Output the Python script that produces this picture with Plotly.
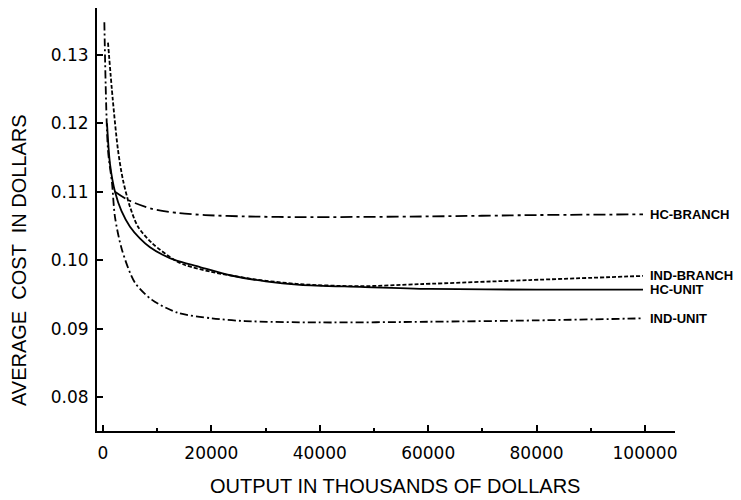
import plotly.graph_objects as go

# ---- data ----
hc_unit_x = [740, 1300, 2214, 3400, 4982, 6800, 8672, 11000, 13284, 17897, 23432, 30000, 36347, 47417, 60332, 80000, 99630]
hc_unit_y = [0.1200, 0.1140, 0.1100, 0.1072, 0.1049, 0.1032, 0.1019, 0.1008, 0.1000, 0.0990, 0.0978, 0.0969, 0.0964, 0.0961, 0.0958, 0.0957, 0.0957]

ind_branch_x = [923, 1800, 2768, 3690, 4982, 6458, 9041, 13284, 15129, 20000, 28000, 36347, 47417, 58487, 78783, 99630]
ind_branch_y = [0.1318, 0.1235, 0.1161, 0.1117, 0.1078, 0.1049, 0.1025, 0.1000, 0.0993, 0.0983, 0.0972, 0.0965, 0.0962, 0.0965, 0.0971, 0.0977]

hc_branch_x = [2214, 4613, 9041, 13838, 18819, 26199, 36347, 60332, 80000, 99630]
hc_branch_y = [0.1100, 0.1088, 0.1075, 0.1069, 0.1066, 0.1064, 0.1063, 0.1064, 0.1066, 0.1067]

ind_unit_x = [250, 923, 1661, 2214, 3506, 5904, 9041, 13838, 20111, 26199, 40000, 60000, 80000, 99630]
ind_unit_y = [0.1348, 0.1161, 0.1113, 0.1063, 0.1015, 0.0967, 0.0942, 0.0923, 0.0915, 0.0911, 0.0909, 0.0910, 0.0912, 0.0915]

series = [
    ("HC-BRANCH", hc_branch_x, hc_branch_y, "12px,4px,3px,4px"),
    ("IND-BRANCH", ind_branch_x, ind_branch_y, "4px,2px"),
    ("HC-UNIT", hc_unit_x, hc_unit_y, "solid"),
    ("IND-UNIT", ind_unit_x, ind_unit_y, "8px,3px,2px,3px"),
]

x_ticks = [0, 20000, 40000, 60000, 80000, 100000]
y_ticks = [0.08, 0.09, 0.10, 0.11, 0.12, 0.13]
y_ticklabels = ["0.08", "0.09", "0.10", "0.11", "0.12", "0.13"]

fig = go.Figure()
for name, xs, ys, dash in series:
    fig.add_trace(go.Scatter(
        x=xs, y=ys, mode="lines", name=name,
        line=dict(color="black", width=1.8, dash=dash, shape="spline", smoothing=0.8),
        showlegend=False,
    ))
    fig.add_annotation(
        x=xs[-1], y=ys[-1], text="<b>" + name + "</b>", showarrow=False,
        xanchor="left", yanchor="middle", xshift=5,
        font=dict(family="Liberation Sans, Arial", size=13, color="black"),
    )

# page body adds an 8px offset; the figure is sized so that the plot lands where the reference has it
W, H = 725, 492
L, R, T, B = 89, 58, 0, 69

fig.add_annotation(
    xref="paper", yref="paper", x=(395 - 8 - L) / (W - L - R), y=-(486 - 8 - (H - B)) / (H - T - B),
    text="OUTPUT IN THOUSANDS OF DOLLARS",
    showarrow=False, xanchor="center", yanchor="middle",
    font=dict(family="Liberation Sans, Arial", size=20, color="black"),
)
fig.add_annotation(
    xref="paper", yref="paper", x=-(L - (19 - 8)) / (W - L - R), y=1 - (260 - 8) / (H - T - B),
    text="AVERAGE  COST  IN DOLLARS",
    showarrow=False, textangle=-90, xanchor="center", yanchor="middle",
    font=dict(family="Liberation Sans, Arial", size=20, color="black"),
)

fig.update_layout(
    width=W, height=H,
    margin=dict(l=L, r=R, t=T, b=B, autoexpand=False),
    paper_bgcolor="white", plot_bgcolor="white",
    font=dict(family="DejaVu Sans, Arial", color="black"),
    xaxis=dict(
        range=[-1107, 105535], tickvals=x_ticks, ticktext=[str(v) for v in x_ticks],
        showline=True, linecolor="black", linewidth=2, showgrid=False, zeroline=False,
        ticks="inside", ticklen=6, tickwidth=1.5, tickcolor="black",
        minor=dict(dtick=10000, tick0=0, ticks="inside", ticklen=3, tickwidth=1.5, tickcolor="black"),
        tickfont=dict(family="DejaVu Sans, Arial", size=17, color="black"),
        ticklabelstandoff=6,
    ),
    yaxis=dict(
        range=[0.07503, 0.13687], tickvals=y_ticks, ticktext=y_ticklabels,
        showline=True, linecolor="black", linewidth=2, showgrid=False, zeroline=False,
        ticks="inside", ticklen=6, tickwidth=1.5, tickcolor="black",
        tickfont=dict(family="DejaVu Sans, Arial", size=17, color="black"),
        ticklabelstandoff=3,
    ),
)

fig.write_html("out.html")
